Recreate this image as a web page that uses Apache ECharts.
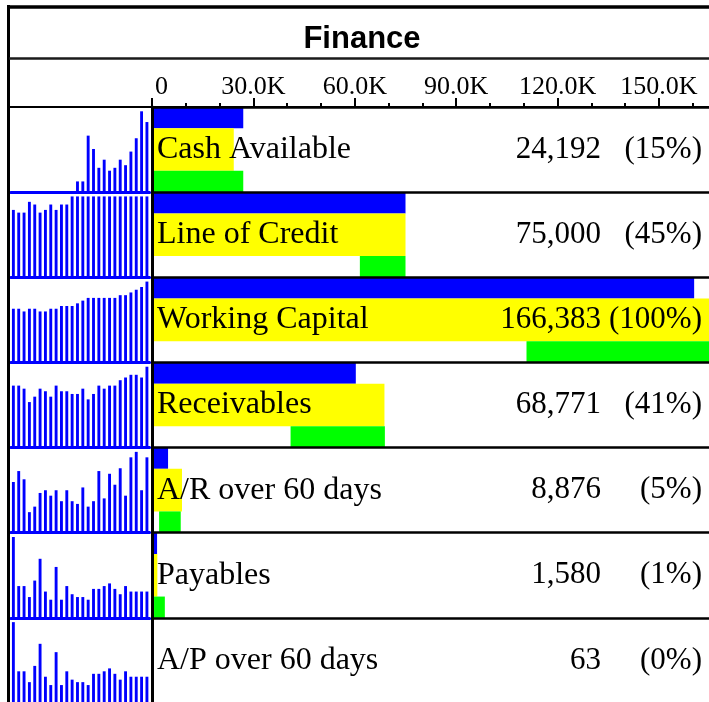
<!DOCTYPE html>
<html><head><meta charset="utf-8">
<script src="https://cdn.jsdelivr.net/npm/echarts@6/dist/echarts.min.js"></script>
<style>html,body{margin:0;padding:0;background:#fff}#c{width:709px;height:702px}</style>
</head><body><div id="c"></div>
<script>
// ---- data ----
const categories = ['Cash Available','Line of Credit','Working Capital','Receivables','A/R over 60 days','Payables','A/P over 60 days'];
const currentValues = [24192, 75000, 166383, 68771, 8876, 1580, 63];
const percentLabels = ['(15%)','(45%)','(100%)','(41%)','(5%)','(1%)','(0%)'];
const blueValues = [27000, 75000, 160400, 60300, 4750, 1500, 55];
const greenLow  = [0, 61500, 110800, 41000, 2100, 600, 25];
const greenHigh = [27000, 75000, 166383, 68900, 8500, 3800, 150];
const axisTickValues = [0, 30000, 60000, 90000, 120000, 150000];

const sparkCash = [0,0,0,0,0,0,0,0,0,0,0,0,3700,3700,19500,14900,8400,11200,7400,8400,11200,9300,14000,18600,27900,24192];
const sparkCredit = [62500,60000,60000,70000,67500,60000,62500,67500,62500,67500,67500,75000,75000,75000,75000,75000,75000,75000,75000,75000,75000,75000,75000,75000,75000,75000];
const sparkWorking = [110500,110500,104900,110500,110500,104900,104900,110500,110500,116100,116100,116100,121600,127200,132800,132800,132800,132800,132800,132800,138400,138400,144000,149600,155200,166383];
const sparkRecv = [52700,52700,50100,38700,43300,50100,47900,43300,52700,47900,47900,45600,45600,50100,41000,45600,52700,50100,52700,52700,57300,59600,61900,61900,59600,68771];
const sparkAR = [5970,7260,6290,2420,3070,4680,5000,4360,5000,3710,5000,3710,3390,5330,3070,3710,7260,4040,6940,5650,7590,4360,8876,9520,5000,8876];
const sparkPay = [4860,1910,1910,1250,2240,3550,1580,1090,3060,1090,1910,1420,1250,1250,1090,1740,1740,1910,2070,1740,1420,1910,1580,1580,1580,1580];
const sparkAP = [194,76,76,50,89,142,63,43,122,43,76,56,50,50,43,70,70,76,83,70,56,76,63,63,63,63];
const sparkSeries = [sparkCash, sparkCredit, sparkWorking, sparkRecv, sparkAR, sparkPay, sparkAP];

// ---- layout ----
const TOP = 107, BAND = 85.14, LEFT = 152, PXK = 3.38, AXMAX = 180000;
const RIGHT = 709 - (LEFT + AXMAX / 1000 * PXK);
const SERIF = 'Liberation Serif';
const fmt = v => v.toLocaleString('en-US');

const grids = [{left: LEFT, top: TOP, right: RIGHT, height: BAND * categories.length, containLabel: false, outerBoundsMode: 'none'}];
const xAxes = [{
  type: 'value', gridIndex: 0, position: 'top', min: 0, max: AXMAX, interval: 30000,
  axisLine: {show: true, onZero: false, lineStyle: {color: '#000', width: 2}},
  axisTick: {show: true, length: 9, lineStyle: {color: '#000', width: 2}},
  minorTick: {show: true, splitNumber: 3, length: 4, lineStyle: {color: '#000', width: 2}},
  splitLine: {show: false}, minorSplitLine: {show: false},
  axisLabel: {
    show: true, margin: 7, fontSize: 26, fontFamily: SERIF, color: '#000',
    alignMinLabel: 'left', showMaxLabel: false,
    formatter: v => axisTickValues.indexOf(v) < 0 ? '' : (v === 0 ? '{z|0}' : (v / 1000).toFixed(1) + 'K'),
    rich: {z: {fontSize: 26, fontFamily: SERIF, color: '#000', padding: [0, 0, 0, 3]}}
  }
}];
const yAxes = [{
  type: 'category', gridIndex: 0, data: categories, inverse: true, z: 5,
  axisLine: {show: true, onZero: false, lineStyle: {color: '#000', width: 3}},
  axisTick: {show: false},
  splitLine: {show: true, lineStyle: {color: '#000', width: 2.5}},
  axisLabel: {inside: true, margin: 5, fontSize: 32, fontFamily: SERIF, color: '#000'}
}, {
  type: 'category', gridIndex: 0, data: categories, inverse: true, position: 'right', offset: RIGHT, z: 5,
  axisLine: {show: false}, axisTick: {show: false}, splitLine: {show: false},
  axisLabel: {
    inside: true, margin: 7, color: '#000',
    formatter: (v, i) => '{v|' + fmt(currentValues[i]) + '}{p|' + percentLabels[i] + '}',
    rich: {
      v: {fontSize: 31, fontFamily: SERIF, color: '#000'},
      p: {fontSize: 31, fontFamily: SERIF, color: '#000', width: 101, align: 'right'}
    }
  }
}];
const series = [
  {type: 'bar', name: 'blue', xAxisIndex: 0, yAxisIndex: 0, data: blueValues, barWidth: '25%', barGap: '0%', itemStyle: {color: '#0000FF'}, silent: true},
  {type: 'bar', name: 'yellow', xAxisIndex: 0, yAxisIndex: 0, data: currentValues, barWidth: '50%', barGap: '0%', itemStyle: {color: '#FFFF00'}, silent: true},
  {type: 'bar', name: 'gbase', xAxisIndex: 0, yAxisIndex: 0, stack: 'g', data: greenLow, barWidth: '25%', barGap: '0%', itemStyle: {color: 'rgba(0,0,0,0)'}, silent: true},
  {type: 'bar', name: 'green', xAxisIndex: 0, yAxisIndex: 0, stack: 'g', data: greenHigh.map((h, i) => h - greenLow[i]), barWidth: '25%', barGap: '0%', itemStyle: {color: '#00FF00'}, silent: true}
];

sparkSeries.forEach((vals, i) => {
  const gi = grids.length, xi = xAxes.length, yi = yAxes.length;
  grids.push({left: 10.7, width: 138.9, top: TOP + i * BAND + 4.3, height: BAND - 4.3, containLabel: false, outerBoundsMode: 'none'});
  xAxes.push({
    type: 'category', gridIndex: gi, data: vals.map((_, k) => String(k + 1)), boundaryGap: true,
    axisLine: {show: true, lineStyle: {color: '#0000FF', width: 3}},
    axisTick: {show: false}, axisLabel: {show: false}, splitLine: {show: false}
  });
  yAxes.push({type: 'value', gridIndex: gi, min: 0, max: 'dataMax', show: false, splitLine: {show: false}});
  series.push({type: 'bar', xAxisIndex: xi, yAxisIndex: yi, data: vals, barWidth: '54%', itemStyle: {color: '#0000FF'}, silent: true});
});

const chart = echarts.init(document.getElementById('c'), null, {renderer: 'canvas'});
chart.setOption({
  backgroundColor: '#ffffff',
  animation: false,
  title: {
    text: 'Finance', left: 362, top: 24, textAlign: 'center', padding: 0,
    textStyle: {fontFamily: 'Liberation Sans', fontWeight: 'bold', fontSize: 31, color: '#000'}
  },
  tooltip: {show: false},
  grid: grids, xAxis: xAxes, yAxis: yAxes, series: series,
  graphic: [
    {type: 'line', z: 100, shape: {x1: 8.5, y1: 5, x2: 8.5, y2: 705}, style: {stroke: '#000', lineWidth: 3}},
    {type: 'line', z: 100, shape: {x1: 7, y1: 7, x2: 709, y2: 7}, style: {stroke: '#000', lineWidth: 3.5}},
    {type: 'line', z: 100, shape: {x1: 9, y1: 58.5, x2: 709, y2: 58.5}, style: {stroke: '#1a1a1a', lineWidth: 2.5}},
    {type: 'line', z: 100, shape: {x1: 9, y1: 107, x2: 152, y2: 107}, style: {stroke: '#000', lineWidth: 2}}
  ]
});
</script>
</body></html>
